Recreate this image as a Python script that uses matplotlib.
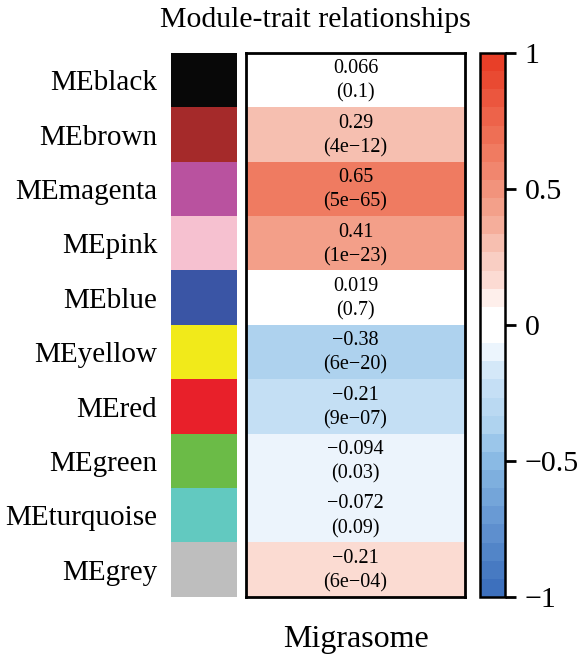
import numpy as np
import matplotlib
matplotlib.use("Agg")
import matplotlib.pyplot as plt
from matplotlib.colors import LinearSegmentedColormap, ListedColormap

plt.rcParams['font.family'] = ['Liberation Serif', 'DejaVu Serif']

modules = ["MEblack", "MEbrown", "MEmagenta", "MEpink", "MEblue",
           "MEyellow", "MEred", "MEgreen", "MEturquoise", "MEgrey"]
module_colors = ["#080808", "#a52a2a", "#b9529f", "#f6c1d0", "#3a55a5",
                 "#f1ea1a", "#e8202a", "#6bbb47", "#62c9c0", "#bebebe"]
corr = [0.066, 0.29, 0.65, 0.41, 0.019, -0.38, -0.21, -0.094, -0.072, -0.21]
pvals = ["0.1", "4e\u221212", "5e\u221265", "1e\u221223", "0.7",
         "6e\u221220", "9e\u221207", "0.03", "0.09", "6e\u221204"]
# shade of each cell as it appears in the picture
cell_shade = [0.03, 0.29, 0.65, 0.41, 0.02, -0.38, -0.21, -0.094, -0.072, 0.15]
trait = "Migrasome"
cbar_ticks = [-1, -0.5, 0, 0.5, 1]

# blue - white - red, 30 steps
base = LinearSegmentedColormap.from_list(
    "bwr_w", [(0.0, "#3d70bd"), (0.25, "#8dbde6"), (0.31, "#afd3ef"),
              (0.395, "#c9e2f6"), (0.45, "#eef6fd"), (0.47, "#ffffff"),
              (0.53, "#ffffff"), (0.57, "#fde3dc"), (0.645, "#f7c4b6"),
              (0.705, "#f4a792"), (0.825, "#f07c62"), (1.0, "#e83f28")])
cmap = ListedColormap(base(np.linspace(0, 1, 30)))

fig = plt.figure(figsize=(5.85, 6.58), dpi=100)
n = len(modules)
bottom, height = 0.0927, 0.8267

# module colour strip
ax_c = fig.add_axes([0.2923, bottom, 0.1128, height])
ax_c.imshow(np.arange(n).reshape(-1, 1), cmap=ListedColormap(module_colors),
            aspect="auto", interpolation="nearest")
ax_c.set_xticks([])
ax_c.set_yticks(range(n))
ax_c.set_yticklabels(modules, fontsize=21)
ax_c.tick_params(axis="y", length=0, pad=10)
for s in ax_c.spines.values():
    s.set_visible(False)

# heatmap
ax = fig.add_axes([0.4205, bottom, 0.3744, height])
im = ax.imshow(np.array(cell_shade).reshape(-1, 1), cmap=cmap, vmin=-1, vmax=1,
               aspect="auto", interpolation="nearest")
for i in range(n):
    ax.text(0, i - 0.21, str(corr[i]).replace("-", "\u2212"), ha="center",
            va="center", fontsize=14.5)
    ax.text(0, i + 0.24, "(" + pvals[i] + ")", ha="center", va="center", fontsize=14.5)
ax.set_xticks([])
ax.set_yticks([])
ax.set_xlabel(trait, fontsize=23, labelpad=20)
for s in ax.spines.values():
    s.set_linewidth(2)

# colour bar
cax = fig.add_axes([0.8205, bottom, 0.0427, height])
cb = fig.colorbar(im, cax=cax, ticks=cbar_ticks)
cb.ax.set_yticklabels(["\u22121", "\u22120.5", "0", "0.5", "1"])
cb.ax.tick_params(labelsize=21.5, length=8, width=2, pad=6)
cb.outline.set_linewidth(1.8)

fig.text(0.54, 0.97, "Module-trait relationships", ha="center", va="center", fontsize=21.5)

fig.savefig("out.png", dpi=100)
